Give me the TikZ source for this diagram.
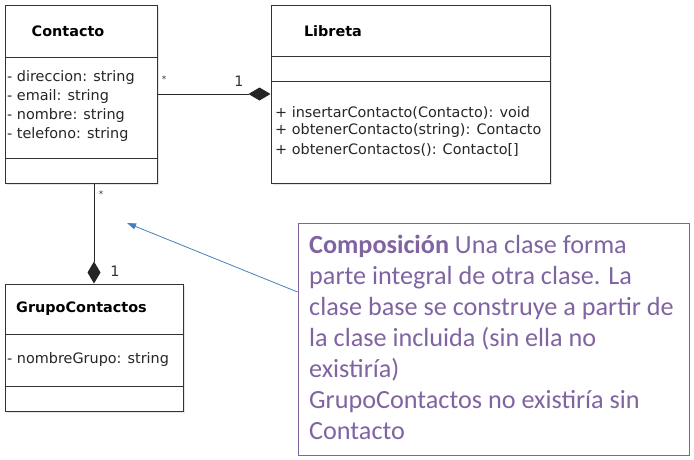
\documentclass[tikz,border=0pt]{standalone}
\usepackage{fontspec}
\setmainfont{DejaVu Sans}
\newfontfamily\notefont{Carlito}
\usetikzlibrary{shadows,arrows.meta,calc}
\definecolor{notepurple}{RGB}{128,100,162}
\definecolor{arrowblue}{RGB}{74,126,187}
\newcommand{\umlsize}{\fontsize{14.4}{16}\selectfont}

\begin{document}
\begin{tikzpicture}[x=1pt,y=-1pt,
  classbox/.style={draw=black!80,line width=1pt,fill=white,inner sep=0pt,
    drop shadow={shadow xshift=2pt,shadow yshift=-2pt,opacity=0.2}},
  divider/.style={draw=black!80,line width=1pt},
  classname/.style={inner sep=0pt,font=\umlsize\bfseries},
  member/.style={anchor=west,inner sep=0pt,font=\umlsize,text=black!85},
  mult/.style={inner sep=0pt,font=\umlsize,text=black!80},
  compos/.style={draw=black!85,line width=1pt,{Diamond[length=22pt,width=13pt]}-}]
\useasboundingbox (0,0) rectangle (694,459);

% classes
\node[classbox,minimum width=152,minimum height=178] (contacto) at (81,94) {};
\node[classbox,minimum width=279,minimum height=178] (libreta) at (410.5,94) {};
\node[classbox,minimum width=178,minimum height=127] (grupo) at (94,347.5) {};

\draw[divider] (contacto.west |- 0,57) -- (contacto.east |- 0,57);
\draw[divider] (contacto.west |- 0,158) -- (contacto.east |- 0,158);
\draw[divider] (libreta.west |- 0,56) -- (libreta.east |- 0,56);
\draw[divider] (libreta.west |- 0,81) -- (libreta.east |- 0,81);
\draw[divider] (grupo.west |- 0,334) -- (grupo.east |- 0,334);
\draw[divider] (grupo.west |- 0,386) -- (grupo.east |- 0,386);

\node[classname] (contactoname) at (68,31) {Contacto};
\node[classname] (libretaname) at (333,31) {Libreta};
\node[classname,anchor=west] (gruponame) at (16,309) {GrupoContactos};

\foreach \y/\t [count=\i] in {78/direccion,97/email,116/nombre,135/telefono}{
  \node[member] (attr\i) at (7,\y) {- \t: string};
}
\node[member] (met1) at (275,113) {+ insertarContacto(Contacto): void};
\node[member] (met2) at (275,131) {+ obtenerContacto(string): Contacto};
\node[member] (met3) at (275,150) {+ obtenerContactos(): Contacto[]};
\node[member] (grupoattr) at (7,360) {- nombreGrupo: string};

% compositions
\draw[compos] (libreta.west) -- (contacto.east);
\draw[compos] (grupo.north) -- (grupo.north |- contacto.south);
\node[mult,font=\fontsize{9}{10}\selectfont] (m1) at (164,79) {*};
\node[mult] (m2) at (239,81) {1};
\node[mult,font=\fontsize{9}{10}\selectfont] (m3) at (101,194) {*};
\node[mult] (m4) at (115,271) {1};

% note
\node[draw=notepurple,line width=0.8pt,minimum width=391,minimum height=232,inner sep=0pt] (note) at (493.5,339) {};
\node[anchor=north west,inner sep=0pt,align=left,text=notepurple,
  font=\notefont\fontsize{26.2}{31}\selectfont] (notetext) at (309,234.5)
  {\textbf{Composición} Una clase forma\\
   parte integral de otra clase. La\\
   clase base se construye a partir de\\
   la clase incluida (sin ella no\\
   existiría)\\
   GrupoContactos no existiría sin\\
   Contacto};
\coordinate (target) at (127,223);
\draw[arrowblue,line width=0.8pt,-{Triangle[length=9pt,width=6pt]}]
  (note.west |- 0,292) -- (target);
\end{tikzpicture}
\end{document}
